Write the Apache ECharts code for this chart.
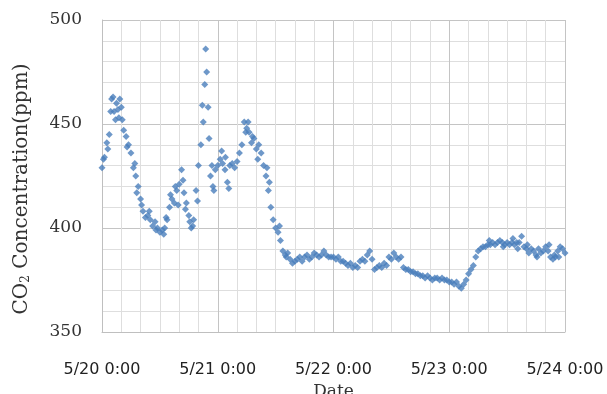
<!DOCTYPE html>
<html>
<head>
<meta charset="utf-8">
<script src="https://cdn.jsdelivr.net/npm/echarts@6/dist/echarts.min.js"></script>
<style>
  html, body { margin: 0; padding: 0; background: #fff; }
  #chart { width: 607px; height: 394px; }
</style>
</head>
<body>
<div id="chart"></div>
<script>
// CO2 readings every 30 min, one array per day (ppm)
const day1Co2 = [429,434,441,445,462,456,460,453,458,447,444,440,436,429,425,420,414,408,405,406,
  404,401,403,400,398,399,400,404,410,414,412,418,421,428,417,412,406,400,404,418,
  430,440,451,486,458,425,420,428];
const day2Co2 = [430,433,431,428,422,430,431,429,432,436,440,451,448,446,441,443,438,440,436,430,
  425,418,410,404,400,398,394,389,387,388,385,383,384,385,386,384,386,387,385,386,
  388,387,386,387,389,387,386,386];
const day3Co2 = [386,385,386,384,384,383,382,383,381,382,381,384,385,384,387,389,385,380,381,382,
  381,383,382,386,385,388,386,385,386,381,380,380,379,379,378,378,377,377,376,377,
  376,375,376,376,375,376,375,375];
const day4Co2 = [374,374,373,374,372,371,373,375,378,380,382,386,389,390,391,391,392,392,393,392,
  393,394,393,392,393,392,393,392,393,393,396,391,390,388,390,389,387,390,388,389,
  391,389,386,385,386,389,391,390,388];

// extra scattered readings (hours since 5/20 0:00)
const extraHours = [0.3,1.2,1.8,2.3,2.8,3.3,3.7,4.2,5.2,6.8,7.2,8.2,9.8,11.2,12.8,13.3,14.2,15.2,15.8,16.8,
  17.3,18.2,18.8,19.8,20.8,21.3,21.7,22.2,22.8,23.2,
  24.8,26.3,25.6,29.8,30.3,31.2,32.3,34.2,34.7,36.8,38.2,
  80.3,83.2,85.2,86.2,88.2,90.2,92.7,93.8,94.7];
const extraCo2 = [433,438,456,463,452,457,462,452,439,431,417,411,408,399,397,405,416,420,411,423,
  409,403,401,413,459,469,475,443,430,418,
  437,419,434,446,451,444,433,429,422,401,386,
  394,391,395,390,392,386,392,387,386];

const dayLabels = ['5/20 0:00', '5/21 0:00', '5/22 0:00', '5/23 0:00', '5/24 0:00'];

const points = [];
[day1Co2, day2Co2, day3Co2, day4Co2].forEach((arr, d) => {
  arr.forEach((v, i) => points.push([d * 24 + i * 0.5, v]));
});
extraHours.forEach((h, i) => points.push([h, extraCo2[i]]));

const chart = echarts.init(document.getElementById('chart'));

chart.setOption({
  animation: false,
  grid: { left: 102, right: 42, top: 20, bottom: 62, outerBoundsMode: 'none', containLabel: false },
  xAxis: {
    type: 'value',
    min: 0,
    max: 96,
    interval: 24,
    name: 'Date',
    nameLocation: 'middle',
    nameGap: 45,
    nameTextStyle: { fontFamily: 'DejaVu Serif', fontSize: 17, color: '#333' },
    axisLine: { lineStyle: { color: '#bfbfbf' } },
    axisTick: { show: false },
    axisLabel: {
      margin: 30,
      fontFamily: 'DejaVu Sans',
      fontSize: 16,
      color: '#222',
      formatter: v => dayLabels[v / 24]
    },
    splitLine: { lineStyle: { color: '#c4c4c4' } },
    minorTick: { show: false, splitNumber: 6 },
    minorSplitLine: { show: true, lineStyle: { color: '#dedede' } }
  },
  yAxis: {
    type: 'value',
    min: 350,
    max: 500,
    interval: 50,
    name: '{a|CO}{s|2}{a| Concentration(ppm)}',
    nameLocation: 'middle',
    nameGap: 70,
    nameTextStyle: {
      padding: [0, 26, 0, 0],
      rich: {
        a: { fontFamily: 'DejaVu Serif', fontSize: 20, color: '#333' },
        s: { fontFamily: 'DejaVu Serif', fontSize: 12, color: '#333', verticalAlign: 'bottom', padding: [9, 0, 0, 0] }
      }
    },
    axisLine: { show: true, lineStyle: { color: '#bfbfbf' } },
    axisTick: { show: false },
    axisLabel: {
      margin: 20,
      fontFamily: 'DejaVu Serif',
      fontSize: 17,
      color: '#333'
    },
    splitLine: { lineStyle: { color: '#c4c4c4' } },
    minorTick: { show: false, splitNumber: 5 },
    minorSplitLine: { show: true, lineStyle: { color: '#dedede' } }
  },
  series: [{
    type: 'scatter',
    data: points,
    symbol: 'diamond',
    symbolSize: 7,
    itemStyle: { color: '#4a7ebb' }
  }]
});
</script>
</body>
</html>
